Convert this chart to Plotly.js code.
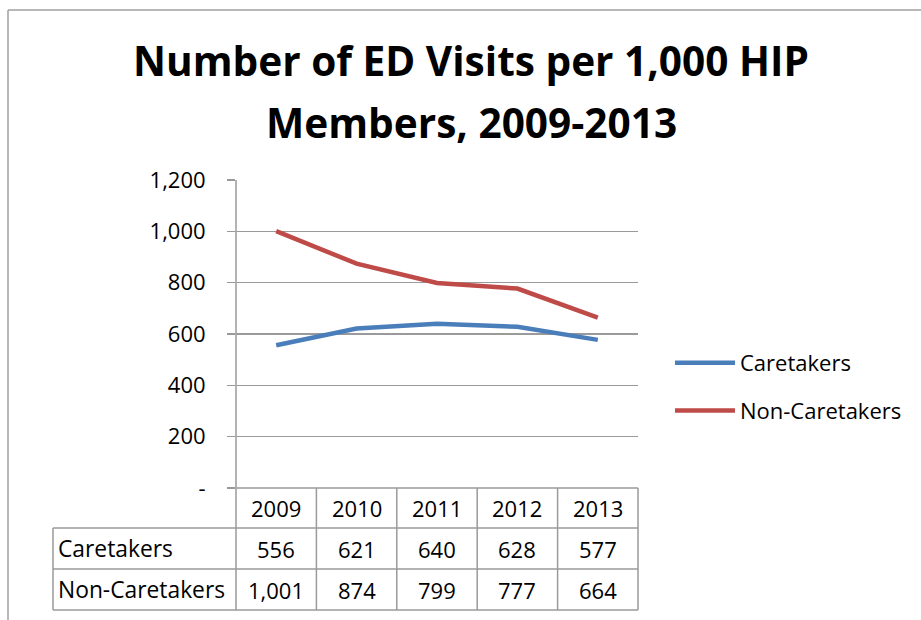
<!DOCTYPE html>
<html>
<head>
<meta charset="utf-8">
<script src="https://cdn.plot.ly/plotly-3.0.1.min.js"></script>
<style>html,body{margin:0;padding:0;background:#fff;}#chart{width:921px;height:620px;}</style>
</head>
<body>
<div id="chart"></div>
<script>
// ---- data ----
const years = ["2009", "2010", "2011", "2012", "2013"];
const caretakers = [556, 621, 640, 628, 577];
const nonCaretakers = [1001, 874, 799, 777, 664];
const seriesNames = ["Caretakers", "Non-Caretakers"];
const yTickVals = [0, 200, 400, 600, 800, 1000, 1200];
const yTickText = ["-", "200", "400", "600", "800", "1,000", "1,200"];
const titleLine1 = "Number of ED Visits per 1,000 HIP";
const titleLine2 = "Members, 2009-2013";

// ---- geometry helpers (pixel -> paper) ----
const W = 921, H = 620;
const L = 236, R = 638, T = 180, B = 488;
const px = x => (x - L) / (R - L);
const py = y => (B - y) / (B - T);
const grid = "#9a9a9a";
const font = "'Open Sans', 'Noto Sans', sans-serif";
const fs = 22, tfs = 40.6;
const fmt = v => v.toLocaleString("en-US");

const traces = [
  {x: years, y: caretakers, name: seriesNames[0], type: "scatter", mode: "lines",
   line: {color: "#4A7EBB", width: 4.5}, legendgroup: "a"},
  {x: years, y: nonCaretakers, name: seriesNames[1], type: "scatter", mode: "lines",
   line: {color: "#BE4B48", width: 4.5}, legendgroup: "b"}
];

const shapes = [];
const line = (x0, y0, x1, y1, color, w) => shapes.push({type: "line", xref: "paper", yref: "paper",
  x0: px(x0), y0: py(y0), x1: px(x1), y1: py(y1), line: {color: color || grid, width: w || 1.5}, layer: "above"});

// chart frame
line(8, 10, 921, 10, "#a0a0a0", 1.5);
line(8, 10, 8, 620, "#a0a0a0", 1.5);

// data table
const rowTop = [488, 528, 569, 610];
const labelLeft = 53;
line(L, rowTop[0], R, rowTop[0]);
for (let r = 1; r < rowTop.length; r++) line(labelLeft, rowTop[r], R, rowTop[r]);
line(labelLeft, rowTop[1], labelLeft, rowTop[3]);
for (let i = 0; i <= years.length; i++) {
  const xx = L + (R - L) * i / years.length;
  line(xx, i === 0 ? T : rowTop[0], xx, rowTop[3]);
}

const annotations = [];
const rowMid = r => py((rowTop[r] + rowTop[r + 1]) / 2);
const cell = (i, r, text) => annotations.push({xref: "x", yref: "paper", x: i, y: rowMid(r), text: text,
  showarrow: false, font: {family: font, size: fs, color: "#000"}, xanchor: "center", yanchor: "middle"});
years.forEach((yr, i) => {
  cell(i, 0, yr);
  cell(i, 1, fmt(caretakers[i]));
  cell(i, 2, fmt(nonCaretakers[i]));
});
seriesNames.forEach((nm, k) => {
  annotations.push({xref: "paper", yref: "paper", x: px(56), y: rowMid(k + 1), text: nm, showarrow: false,
    font: {family: font, size: fs + 0.8, color: "#000"}, xanchor: "left", yanchor: "middle"});
});
// title second line
annotations.push({xref: "paper", yref: "paper", x: px(471), y: py(122), text: "<b>" + titleLine2 + "</b>",
  showarrow: false, font: {family: font, size: tfs, color: "#000"}, xanchor: "center", yanchor: "middle"});

const layout = {
  width: W, height: H,
  margin: {l: L, r: W - R, t: T, b: H - B, pad: 0},
  paper_bgcolor: "#fff", plot_bgcolor: "#fff",
  title: {text: "<b>" + titleLine1 + "</b>", font: {family: font, size: tfs, color: "#000"},
    x: 471 / W, xanchor: "center", y: 1 - 62 / H, yanchor: "middle", xref: "container", yref: "container"},
  showlegend: true,
  legend: {x: px(670), y: py(387), xref: "paper", yref: "paper", xanchor: "left", yanchor: "middle",
    font: {family: font, size: fs, color: "#000"}, traceorder: "grouped", tracegroupgap: 16,
    itemwidth: 60, bgcolor: "rgba(0,0,0,0)"},
  xaxis: {type: "category", categoryarray: years, range: [-0.5, years.length - 0.5],
    showticklabels: false, showgrid: false, zeroline: false, showline: false, ticks: "", fixedrange: true},
  yaxis: {range: [0, 1200], tickvals: yTickVals, ticktext: yTickText, showgrid: true, gridcolor: grid, gridwidth: 1.5,
    zeroline: false, showline: false, ticks: "outside", ticklen: 8, tickcolor: grid, tickwidth: 1.5,
    ticklabelstandoff: 17, tickfont: {family: font, size: fs, color: "#000"}, fixedrange: true},
  shapes: shapes,
  annotations: annotations
};

Plotly.newPlot("chart", traces, layout, {displayModeBar: false, staticPlot: true});
</script>
</body>
</html>
